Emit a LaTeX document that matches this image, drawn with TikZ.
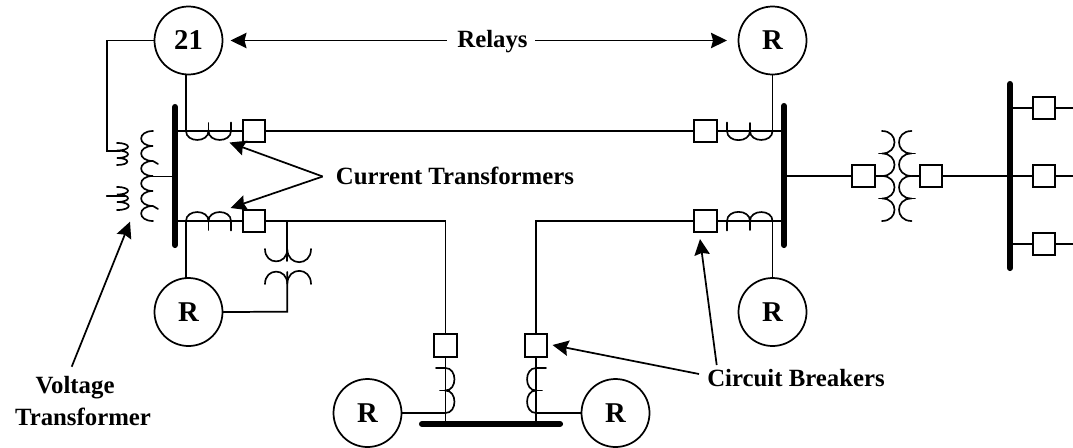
\documentclass[tikz,border=0pt]{standalone}
\usepackage{fontspec}
\setmainfont{Liberation Serif}
\usetikzlibrary{arrows.meta}
\tikzset{
  wire/.style={line width=1.3pt,line cap=round,line join=miter,black},
  coil/.style={line width=1.25pt,line cap=round,black},
  busbar/.style={line width=4.6pt,line cap=round,black},
  pointer/.style={line width=1.3pt,-{Stealth[length=12pt,width=11.5pt,inset=1.5pt]},black},
  relay/.style={circle,draw,line width=1.3pt,minimum size=51pt,inner sep=0pt,font=\fontsize{21.5}{21.5}\selectfont\bfseries},
  breaker/.style={rectangle,draw,line width=1.5pt,minimum size=17pt,inner sep=0pt,fill=white},
  lbl/.style={font=\fontsize{18.6}{18.6}\selectfont\bfseries,text height=12.3pt,text depth=0pt,inner ysep=0pt,inner xsep=0pt},
  bd/.style={out=-90,in=-90,looseness=1.36},
  bu/.style={out=90,in=90,looseness=1.36},
  br/.style={out=0,in=0,looseness=1.36},
  bl/.style={out=180,in=180,looseness=1.36},
  deep/.style={looseness=1.9},
  vtp/.style={looseness=2.7},
  vts/.style={looseness=5},
}
\begin{document}
\begin{tikzpicture}[x=0.75pt,y=-0.75pt]
\useasboundingbox (0,0) rectangle (1073,447);
\fill[white] (0,0) rectangle (1073,447);

% relays
\node[relay] (r21) at (188.5,40.5) {21};
\node[relay] (rtr) at (772.5,40.5) {R};
\node[relay] (rll) at (188.5,312) {R};
\node[relay] (rlr) at (772.5,312) {R};
\node[relay] (rbl) at (367.5,413) {R};
\node[relay] (rbr) at (615.5,413) {R};

% breakers
\node[breaker] (b1) at (254,131) {};
\node[breaker] (b2) at (254,221) {};
\node[breaker] (b3) at (705.5,131) {};
\node[breaker] (b4) at (705.5,221) {};
\node[breaker] (b5) at (863.5,176) {};
\node[breaker] (b6) at (931,176) {};
\node[breaker] (b7) at (1044,108) {};
\node[breaker] (b8) at (1044,176) {};
\node[breaker] (b9) at (1044,244) {};
\node[breaker] (b10) at (445.5,345.5) {};
\node[breaker] (b11) at (536,345.5) {};

% bus points
\coordinate (busL1) at (175,107);
\coordinate (busL2) at (175,245);
\coordinate (busR1) at (784,106);
\coordinate (busR2) at (784,245);
\coordinate (busF1) at (1010,84);
\coordinate (busF2) at (1010,268);
\coordinate (busB1) at (422,424);
\coordinate (busB2) at (560,424);
\draw[busbar] (busL1) -- (busL2);
\draw[busbar] (busR1) -- (busR2);
\draw[busbar] (busF1) -- (busF2);
\draw[busbar] (busB1) -- (busB2);

% main wires
\draw[wire] (175,131) -- (b1.west);
\draw[wire] (b1.east) -- (b3.west);
\draw[wire] (b3.east) -- (784,131);
\draw[wire] (175,221) -- (b2.west);
\draw[wire] (b2.east) -- (445.5,221) -- (b10.north);
\draw[wire] (b4.west) -- (536,221) -- (b11.north);
\draw[wire] (b4.east) -- (784,221);
\draw[wire] (b10.south) -- (445.5,424);
\draw[wire] (b11.south) -- (536,424);
\draw[wire] (784,176) -- (b5.west);
\draw[wire] (b5.east) -- (882,176);
\draw[wire] (911.5,176) -- (b6.west);
\draw[wire] (b6.east) -- (b8.west);
\draw[wire] (1010,108) -- (b7.west);
\draw[wire] (1010,244) -- (b9.west);
\coordinate (endA) at (1073,108);
\coordinate (endB) at (1073,176);
\coordinate (endC) at (1073,244);
\draw[wire] (b7.east) -- (endA);
\draw[wire] (b8.east) -- (endB);
\draw[wire] (b9.east) -- (endC);

% relay wires
\draw[wire] (r21.west) -- (106.7,40.5) -- (106.7,151) -- (120,151);
\draw[wire] (106.7,196) -- (125,196);
\draw[wire] (186,74.5) -- (186,131);
\draw[wire] (186,221) -- (186,278.3);
\draw[wire] (rtr.south) -- (772.5,131);
\draw[wire] (772.5,221) -- (rlr.north);
\draw[wire] (rbl.east) -- (445.5,413);
\draw[wire] (rbr.west) -- (536,413);
\draw[wire] (287.3,221) -- (287.3,261);
\draw[wire] (287.3,272) -- (287.3,311.7) -- (rll.east);
\draw[wire] (153,176.5) -- (175,176.5);

% current transformers
\draw[coil] (186,131) to[bd] (208.5,131) to[bd] (231,131) -- (231,122.5);
\draw[coil] (208.5,131) -- (208.5,123);
\draw[coil] (186,221) to[bu] (208.5,221) to[bu] (231,221) -- (231,230.5);
\draw[coil] (208.5,221) -- (208.5,230);
\draw[coil] (727,131) -- (727,122.5) (727,131) to[bd] (750,131) to[bd] (772.5,131);
\draw[coil] (750,131) -- (750,123);
\draw[coil] (727,230.5) -- (727,221) to[bu] (750,221) to[bu] (772.5,221);
\draw[coil] (750,221) -- (750,230);
\draw[coil] (436,368) -- (445.5,368) to[br] (445.5,390.5) to[br] (445.5,413);
\draw[coil] (440,390.5) -- (445.5,390.5);
\draw[coil] (546,368) -- (536,368) to[bl] (536,390.5) to[bl] (536,413);
\draw[coil] (542,390.5) -- (536,390.5);

% power transformer, right
\draw[coil] (882,131) to[br,deep] (882,153.5) to[br,deep] (882,176) to[br,deep] (882,198.5) to[br,deep] (882,221);
\draw[coil] (879,153.5) -- (882,153.5) (879,198.5) -- (882,198.5);
\draw[coil] (911.5,131) to[bl,deep] (911.5,153.5) to[bl,deep] (911.5,176) to[bl,deep] (911.5,198.5) to[bl,deep] (911.5,221);
\draw[coil] (915,153.5) -- (911.5,153.5) (915,198.5) -- (911.5,198.5);

% small transformer, lower left
\draw[coil] (265,249) to[bd,deep] (287.3,249) to[bd,deep] (311,249);
\draw[coil] (265,284) to[bu,deep] (287.3,284) to[bu,deep] (311,284);

% voltage transformer
\draw[coil] (153,131) to[bl,vtp] (153,146) to[bl,vtp] (153,161) to[bl,vtp] (153,176) to[bl,vtp] (153,191) to[bl,vtp] (153,206) to[bl,vtp] (153,221);
\draw[coil] (153,161) -- (158,164) (153,206) -- (158,209);
\draw[coil] (117,143) to[br,vts] (117,150.5) to[br,vts] (117,158) to[br,vts] (117,165);
\draw[coil] (117,187) to[br,vts] (117,194.5) to[br,vts] (117,202) to[br,vts] (117,210);

% labels
\node[lbl] (relays) at (492.5,39.5) {Relays};
\node[lbl,inner xsep=9.75pt] (ct) at (455,176.5) {Current Transformers};
\node[lbl] (cb) at (796,378) {Circuit Breakers};
\node[lbl] (vt1) at (75,385.5) {Voltage};
\node[lbl] (vt2) at (83,417) {Transformer};

% pointers
\coordinate (rl) at (446.7,40.5);
\coordinate (rr) at (535,40.5);
\coordinate (tipA) at (230.5,40.5);
\coordinate (tipB) at (727,40.5);
\draw[pointer] (rl) -- (tipA);
\draw[pointer] (rr) -- (tipB);
\coordinate (tipC) at (229.5,142.5);
\coordinate (tipD) at (230.5,208);
\draw[pointer] (ct.west) -- (tipC);
\draw[pointer] (ct.west) -- (tipD);
\coordinate (tipE) at (700,239);
\coordinate (tipF) at (552.5,345);
\coordinate (cbA) at (716.7,365);
\coordinate (cbB) at (699,374);
\draw[pointer] (cbA) -- (tipE);
\draw[pointer] (cbB) -- (tipF);
\coordinate (vtA) at (71.7,366.7);
\coordinate (tipG) at (130,221.7);
\draw[pointer] (vtA) -- (tipG);
\end{tikzpicture}
\end{document}
